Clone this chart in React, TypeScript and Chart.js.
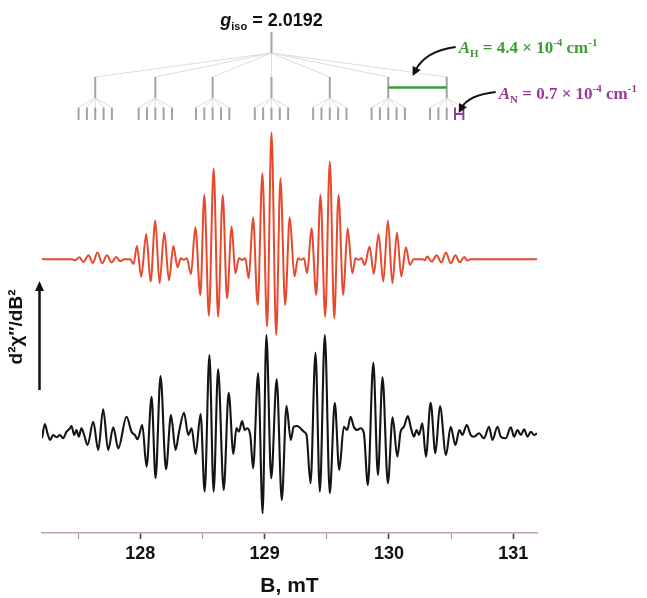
import { useEffect, useRef } from 'react';
import { Chart, registerables } from 'chart.js';

Chart.register(...registerables);

// ---------- data (magnetic field in mT, intensity in arbitrary units) ----------
const redField = [
  127.21, 127.452, 127.477, 127.511, 127.543, 127.584, 127.619, 127.656, 127.694, 127.732, 127.769, 127.807, 127.839, 127.871, 127.919,
  127.946, 127.973, 128.008, 128.048, 128.083, 128.121, 128.155, 128.193, 128.231, 128.266, 128.300, 128.326, 128.350, 128.374,
  128.408, 128.443, 128.483, 128.515, 128.552, 128.590, 128.626, 128.663, 128.698, 128.735, 128.765, 128.793, 128.819, 128.845,
  128.872, 128.907, 128.944, 128.982, 129.020, 129.055, 129.093, 129.127, 129.165, 129.202, 129.240, 129.268, 129.292, 129.316,
  129.342, 129.377, 129.415, 129.449, 129.487, 129.524, 129.560, 129.594, 129.632, 129.667, 129.705, 129.731, 129.755, 129.779,
  129.804, 129.844, 129.878, 129.916, 129.954, 129.991, 130.027, 130.064, 130.099, 130.136, 130.168, 130.198, 130.271,
  130.287, 130.308, 130.343, 130.383, 130.421, 130.458, 130.496, 130.534, 130.568, 130.606, 130.630, 130.657, 131.19,
];
const redSignal = [
  0, 0, -1, 2, -2.7, 4, -3.7, 6.7, -4, 4, -3.3, 2.3, -2, 0, 0,
  -4.7, 13.3, -17.3, 25.3, -22.3, 38.7, -24, 26.7, -21, 13.3, -8, 1, -0.5, 1,
  -14.7, 32, -35.7, 64.3, -56.5, 91, -57.3, 64.3, -39, 32.7, -14, 1, -0.7, 1,
  -19, 42, -45.7, 86, -67.3, 126.7, -75.7, 81, -45.7, 42, -17.3, 1, -0.5, 1,
  -14, 31, -35.7, 64.3, -57.3, 97.7, -59, 64.3, -35.7, 31, -14, 1, -0.5, 1,
  -5.7, 12.7, -14.7, 25.3, -22.3, 38.7, -24, 26.7, -17.3, 12, -5.7, 0, 0,
  -1, 2.7, -2.3, 4, -3.3, 6.7, -4, 4, -3, 2.3, -1.3, 0, 0,
];

const blackField = [
  127.21, 127.233, 127.254, 127.275, 127.300, 127.326, 127.354, 127.380, 127.407, 127.434, 127.447, 127.469, 127.487, 127.506,
  127.527, 127.549, 127.576, 127.622, 127.662, 127.702, 127.742, 127.783, 127.823, 127.890, 127.930, 127.957, 127.978,
  128.016, 128.051, 128.091, 128.123, 128.163, 128.207, 128.247, 128.284, 128.312, 128.352, 128.386, 128.413, 128.445,
  128.485, 128.518, 128.556, 128.590, 128.626, 128.671, 128.711, 128.749, 128.773, 128.793, 128.819, 128.840, 128.859, 128.886,
  128.907, 128.948, 128.984, 129.014, 129.053, 129.097, 129.138, 129.176, 129.210, 129.234, 129.262, 129.288, 129.315, 129.337,
  129.369, 129.409, 129.444, 129.484, 129.524, 129.564, 129.600, 129.637, 129.664, 129.691, 129.717, 129.745, 129.771, 129.798,
  129.830, 129.874, 129.911, 129.948, 129.991, 130.029, 130.067, 130.093, 130.120, 130.152, 130.174, 130.200, 130.222, 130.241,
  130.268, 130.297, 130.335, 130.373, 130.410, 130.458, 130.496, 130.534, 130.566, 130.590, 130.625, 130.657, 130.684, 130.724,
  130.764, 130.804, 130.832, 130.872, 130.899, 130.939, 130.979, 131.006, 131.033, 131.060, 131.086, 131.114, 131.140, 131.167, 131.19,
];
const blackSignal = [
  -4.8, 9.5, 0.2, -6.5, -1.5, -3.8, -1.5, -4.8, 1.8, 5.2, 7.5, -1.5, 3.5, -3.2,
  5.2, -1.5, -11.5, 11.8, -16.5, 24.2, -16.5, 6.2, -14.8, 16.8, 1.8, -1.5, -5.8,
  8.5, -33.2, 36.8, -44.8, 57.5, -35.8, 18.5, -16.5, 1.8, 20.8, -1.5, 5.2, -20.5,
  19.5, -58.2, 78.5, -58.2, 64.2, -56.5, 40.8, -20.5, 5.5, 1.8, 12.5, 3.5, 5.2, -3.2,
  -34.8, 60.2, -79.8, 98.5, -44.8, 54.2, -66.5, 27.5, -6.5, 6.8, 7.5, 5.2, 1.8, -1.5,
  -49.8, 80.8, -58.2, 98.5, -59.8, 30.8, -36.5, 6.8, 3.5, 16.8, 6.8, 3.5, 5.2, 0.2,
  -51.5, 70.8, -41.5, 56.2, -49.8, 16.2, -23.2, 1.8, 6.8, 17.5, 6.8, -3.2, 3.5, -1.5,
  10.2, -23.2, 30.8, -19.8, 27.5, -21.5, 6.8, -11.5, 3.5, -1.5, 8.5, -1.5, -3.2, 0.2,
  -4.8, 6.8, -6.5, 6.8, -3.2, -4.8, 6.2, -3.2, 3.5, -1.5, 4.2, -3.2, 1.8, -1.5, 0.2,
];

const xTickValues = [127.5, 128, 128.5, 129, 129.5, 130, 130.5, 131];

// stick diagram: g_iso centre, 7 proton lines, 5 nitrogen sub-lines
const gIsoField = 129.055;
const protonLines = [127.638, 128.121, 128.582, 129.055, 129.524, 129.994, 130.464];
const nitrogenOffsets = [-0.134, -0.067, 0, 0.067, 0.134];

// ---------- layout / style constants ----------
const RED_BASE = 273.7;
const BLACK_BASE = 99.5;
const TREE = { stemTop: 501, stemBottom: 480, l2Top: 456, l2Bottom: 435, hBar: 445.5, l3Top: 425.5, l3Bottom: 413, nBar: 419 };
const SANS = '"Liberation Sans", Arial, sans-serif';
const SERIF = '"Liberation Serif", "Times New Roman", serif';
const GREEN = '#3e9b36';
const PURPLE = '#9a3a98';

type Part = { t: string; font: string; dy?: number };

function richWidth(ctx: CanvasRenderingContext2D, parts: Part[]) {
  let w = 0;
  for (const p of parts) {
    ctx.font = p.font;
    w += ctx.measureText(p.t).width;
  }
  return w;
}
function drawRich(ctx: CanvasRenderingContext2D, x: number, y: number, parts: Part[], color: string) {
  ctx.fillStyle = color;
  ctx.textAlign = 'left';
  ctx.textBaseline = 'alphabetic';
  let cx = x;
  for (const p of parts) {
    ctx.font = p.font;
    ctx.fillText(p.t, cx, y + (p.dy || 0));
    cx += ctx.measureText(p.t).width;
  }
}
function seg(ctx: CanvasRenderingContext2D, x1: number, y1: number, x2: number, y2: number) {
  ctx.beginPath();
  ctx.moveTo(x1, y1);
  ctx.lineTo(x2, y2);
  ctx.stroke();
}
function arrowHead(ctx: CanvasRenderingContext2D, tx: number, ty: number, fx: number, fy: number, len: number, half: number) {
  const a = Math.atan2(ty - fy, tx - fx);
  ctx.beginPath();
  ctx.moveTo(tx, ty);
  ctx.lineTo(tx - len * Math.cos(a) + half * Math.sin(a), ty - len * Math.sin(a) - half * Math.cos(a));
  ctx.lineTo(tx - len * Math.cos(a) - half * Math.sin(a), ty - len * Math.sin(a) + half * Math.cos(a));
  ctx.closePath();
  ctx.fill();
}
function curvedArrow(ctx: CanvasRenderingContext2D, sx: number, sy: number, cx: number, cy: number, tx: number, ty: number) {
  ctx.strokeStyle = '#111';
  ctx.fillStyle = '#111';
  ctx.lineWidth = 2;
  const a = Math.atan2(ty - cy, tx - cx);
  const ex = tx - 6 * Math.cos(a);
  const ey = ty - 6 * Math.sin(a);
  ctx.beginPath();
  ctx.moveTo(sx, sy);
  ctx.quadraticCurveTo(cx, cy, ex, ey);
  ctx.stroke();
  arrowHead(ctx, tx, ty, cx, cy, 9, 4.5);
}

const annotationPlugin = {
  id: 'eprAnnotations',
  afterDatasetsDraw(chart: any) {
    const ctx: CanvasRenderingContext2D = chart.ctx;
    const xs = chart.scales.x;
    const ys = chart.scales.y;
    const X = (b: number) => xs.getPixelForValue(b);
    const Y = (v: number) => ys.getPixelForValue(v);
    ctx.save();
    ctx.lineCap = 'butt';

    // fan lines
    ctx.strokeStyle = '#dcdcdc';
    ctx.lineWidth = 1;
    protonLines.forEach((b) => seg(ctx, X(gIsoField), Y(TREE.stemBottom), X(b), Y(TREE.l2Top)));
    protonLines.forEach((b) =>
      nitrogenOffsets.forEach((o) => seg(ctx, X(b), Y(TREE.l2Bottom), X(b + o), Y(TREE.l3Top)))
    );

    // stems
    ctx.strokeStyle = '#a2a2a2';
    ctx.lineWidth = 2;
    seg(ctx, X(gIsoField), Y(TREE.stemTop), X(gIsoField), Y(TREE.stemBottom));
    protonLines.forEach((b) => seg(ctx, X(b), Y(TREE.l2Top), X(b), Y(TREE.l2Bottom)));
    protonLines.forEach((b, gi) =>
      nitrogenOffsets.forEach((o, ni) => {
        const last = gi === protonLines.length - 1 && ni >= 3;
        ctx.strokeStyle = last ? PURPLE : '#a2a2a2';
        seg(ctx, X(b + o), Y(TREE.l3Top), X(b + o), Y(TREE.l3Bottom));
      })
    );

    // A_H bar
    ctx.strokeStyle = GREEN;
    ctx.lineWidth = 2.5;
    seg(ctx, X(protonLines[5]), Y(TREE.hBar), X(protonLines[6]), Y(TREE.hBar));
    // A_N bar
    ctx.strokeStyle = PURPLE;
    ctx.lineWidth = 2;
    const lastB = protonLines[6];
    seg(ctx, X(lastB + nitrogenOffsets[3]), Y(TREE.nBar), X(lastB + nitrogenOffsets[4]), Y(TREE.nBar));

    // g_iso label
    const gParts: Part[] = [
      { t: 'g', font: `italic bold 18px ${SANS}` },
      { t: 'iso', font: `bold 11px ${SANS}`, dy: 4 },
      { t: ' = 2.0192', font: `bold 18px ${SANS}` },
    ];
    const gw = richWidth(ctx, gParts);
    drawRich(ctx, X(gIsoField) - gw / 2, Y(507), gParts, '#111');

    // A_H label
    const hParts: Part[] = [
      { t: 'A', font: `italic bold 17px ${SERIF}` },
      { t: 'H', font: `bold 11px ${SERIF}`, dy: 4 },
      { t: ' = 4.4 × 10', font: `bold 17px ${SERIF}` },
      { t: '-4', font: `bold 11px ${SERIF}`, dy: -7 },
      { t: ' cm', font: `bold 17px ${SERIF}` },
      { t: '-1', font: `bold 11px ${SERIF}`, dy: -7 },
    ];
    drawRich(ctx, X(130.56), Y(480), hParts, GREEN);
    const nParts: Part[] = [
      { t: 'A', font: `italic bold 17px ${SERIF}` },
      { t: 'N', font: `bold 11px ${SERIF}`, dy: 4 },
      { t: ' = 0.7 × 10', font: `bold 17px ${SERIF}` },
      { t: '-4', font: `bold 11px ${SERIF}`, dy: -7 },
      { t: ' cm', font: `bold 17px ${SERIF}` },
      { t: '-1', font: `bold 11px ${SERIF}`, dy: -7 },
    ];
    drawRich(ctx, X(130.882), Y(434.5), nParts, PURPLE);

    // curved arrows
    curvedArrow(ctx, X(130.536), Y(486), X(130.29), Y(482), X(130.19), Y(457));
    curvedArrow(ctx, X(130.858), Y(441), X(130.64), Y(438), X(130.56), Y(420));

    // vertical intensity arrow and label
    ctx.strokeStyle = '#111';
    ctx.fillStyle = '#111';
    ctx.lineWidth = 2.5;
    const ax = X(127.19);
    seg(ctx, ax, Y(143), ax, Y(244));
    arrowHead(ctx, ax, Y(252), ax, Y(143), 10, 4.5);
    ctx.save();
    ctx.translate(17, Y(206));
    ctx.rotate(-Math.PI / 2);
    ctx.textAlign = 'center';
    ctx.textBaseline = 'middle';
    ctx.font = `bold 19px ${SANS}`;
    ctx.fillText('d²χ″/dB²', 0, 0);
    ctx.restore();

    ctx.restore();
  },
};

export default function App() {
  const ref = useRef<HTMLCanvasElement | null>(null);
  useEffect(() => {
    document.body.style.margin = '0';
    const canvas = ref.current;
    if (!canvas) return;
    const chart = new Chart(canvas, {
      type: 'line',
      data: {
        datasets: [
          {
            label: 'simulated',
            data: redField.map((b, i) => ({ x: b, y: RED_BASE + redSignal[i] })),
            borderColor: '#e6492d',
            borderWidth: 2,
            pointRadius: 0,
            cubicInterpolationMode: 'monotone',
            fill: false,
          },
          {
            label: 'experimental',
            data: blackField.map((b, i) => ({ x: b, y: BLACK_BASE + blackSignal[i] })),
            borderColor: '#141414',
            borderWidth: 2.1,
            pointRadius: 0,
            cubicInterpolationMode: 'monotone',
            fill: false,
          },
        ],
      },
      options: {
        animation: false,
        responsive: false,
        devicePixelRatio: 1,
        layout: { padding: { left: 42, right: 110, top: 0, bottom: 0 } },
        plugins: { legend: { display: false }, tooltip: { enabled: false } },
        events: [],
        scales: {
          x: {
            type: 'linear',
            min: 127.21,
            max: 131.19,
            afterBuildTicks: (scale: any) => {
              scale.ticks = xTickValues.map((v) => ({ value: v }));
            },
            afterFit: (scale: any) => {
              scale.height = 65;
            },
            grid: {
              drawOnChartArea: false,
              drawTicks: true,
              tickLength: 6,
              tickColor: (c: any) => (Number.isInteger(c.tick?.value) ? '#444' : '#a0a0a0'),
              tickWidth: (c: any) => (Number.isInteger(c.tick?.value) ? 1.6 : 1.2),
            },
            border: { display: true, color: '#c6a4a4', width: 1.5 },
            ticks: {
              autoSkip: false,
              maxRotation: 0,
              padding: 4,
              color: '#111',
              font: { family: SANS, size: 18, weight: 'bold' },
              callback: (v: any) => (Number.isInteger(v) ? String(v) : ''),
            },
            title: {
              display: true,
              text: 'B, mT',
              color: '#111',
              font: { family: SANS, size: 21, weight: 'bold', lineHeight: 1 },
              padding: { top: 0, bottom: 1 },
            },
          },
          y: { type: 'linear', display: false, min: 0, max: 533 },
        },
      },
      plugins: [annotationPlugin],
    } as any);
    return () => chart.destroy();
  }, []);
  return (
    <div style={{ width: 647, height: 598, background: '#fff' }}>
      <canvas ref={ref} width={647} height={598} style={{ display: 'block', width: 647, height: 598 }} />
    </div>
  );
}
